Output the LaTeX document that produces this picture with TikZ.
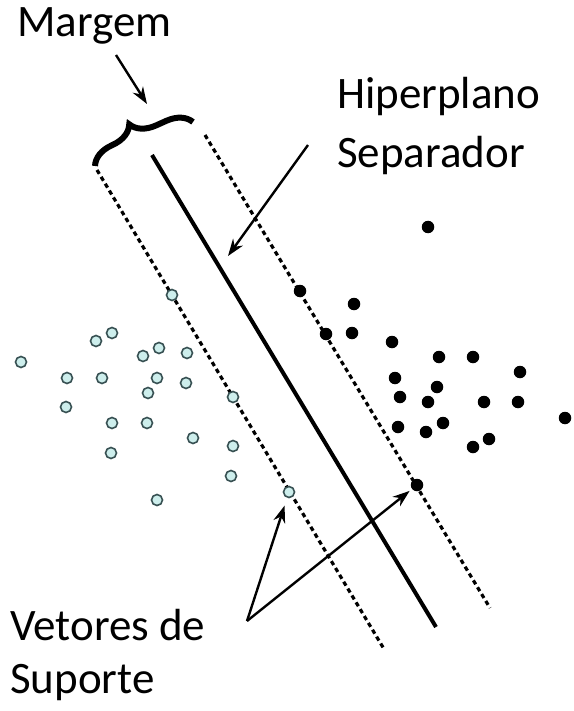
\documentclass[tikz,border=0pt]{standalone}
\usepackage{fontspec}
\setmainfont{Carlito}
\usepackage{xcolor}
\usetikzlibrary{arrows.meta, decorations.pathreplacing}
\definecolor{svmcyan}{RGB}{205,238,236}
\definecolor{svmrim}{RGB}{55,80,82}

\begin{document}
\begin{tikzpicture}[x=1pt, y=-1pt,
        opendot/.style={circle, draw=svmrim, fill=svmcyan, line width=1.6pt, minimum size=11pt, inner sep=0pt},
        fulldot/.style={circle, fill=black, minimum size=12.5pt, inner sep=0pt},
        txtlabel/.style={font=\fontsize{45}{54}\selectfont, anchor=base west, inner sep=0pt},
        marginline/.style={line width=3.2pt, dash pattern=on 4.5pt off 3.5pt},
        pointer/.style={-{Stealth[length=17pt, width=12pt]}, line width=2.4pt}
    ]
        \useasboundingbox (0,0) rectangle (573,711);

        % Hyperplane and margins
        \coordinate (hypA) at (152,155);  \coordinate (hypB) at (436,627);
        \coordinate (lefA) at (97,170);   \coordinate (lefB) at (384,649);
        \coordinate (rigA) at (205,135);  \coordinate (rigB) at (490,608);
        \draw[line width=4pt] (hypA) -- (hypB);
        \draw[marginline] (lefA) -- (lefB);
        \draw[marginline] (rigA) -- (rigB);

        % Brace over the margin
        \coordinate (brL) at (95,166);  \coordinate (brR) at (193,122);
        \draw[decorate, decoration={brace, amplitude=24pt, aspect=0.45}, line width=6pt] (brL) -- (brR);

        % Class one (open)
        \foreach \x/\y [count=\i] in {21/362, 96/341, 112/333, 143/356, 159/348, 187/353, 67/378,
                102/378, 157/378, 186/383, 148/393, 233/397, 66/407, 112/423, 147/423,
                193/438, 233/446, 111/453, 231/476, 157/500, 172/295}
            \node[opendot] (o\i) at (\x,\y) {};
        \node[opendot] (svopen) at (289,492) {};

        % Class two (filled)
        \foreach \x/\y [count=\i] in {428/227, 300/291, 354/304, 326/334, 352/333, 392/342, 439/357,
                473/357, 520/372, 395/378, 437/387, 400/397, 428/402, 484/402, 518/402,
                565/418, 398/427, 443/423, 426/432, 489/439, 473/447}
            \node[fulldot] (f\i) at (\x,\y) {};
        \node[fulldot] (svfull) at (417,485) {};

        % Labels
        \node[txtlabel] (margem) at (17,37) {Margem};
        \node[txtlabel] (hip) at (337,109) {Hiperplano};
        \node[txtlabel] (sep) at (337,168) {Separador};
        \node[txtlabel] (vet) at (10,640) {Vetores de};
        \node[txtlabel] (sup) at (10,693) {Suporte};

        % Arrows
        \coordinate (margemtail) at (116,55);  \coordinate (margemtip) at (147,104);
        \coordinate (hiptail) at (308,145);    \coordinate (hiptip) at (228,256);
        \coordinate (vetapex) at (247,621);
        \draw[pointer] (margemtail) -- (margemtip);
        \draw[pointer] (hiptail) -- (hiptip);
        \draw[pointer, shorten >=8pt] (vetapex) -- (svopen);
        \draw[pointer, shorten >=3pt] (vetapex) -- (svfull);
    \end{tikzpicture}
\end{document}
